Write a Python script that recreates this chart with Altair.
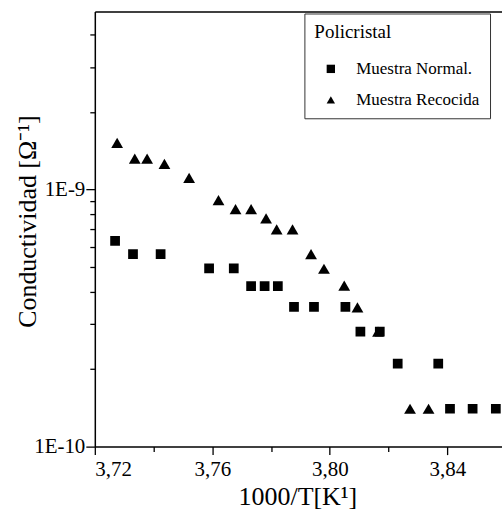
import altair as alt
import pandas as pd

# --- data ---
series_names = ["Muestra Normal.", "Muestra Recocida"]

normal_x = [3.7269, 3.7330, 3.7424, 3.7589, 3.7673, 3.7732, 3.7778, 3.7823, 3.7878,
            3.7946, 3.8053, 3.8104, 3.8170, 3.8231, 3.8369, 3.8409, 3.8486, 3.8565]
normal_y = [6.32e-10, 5.61e-10, 5.61e-10, 4.94e-10, 4.94e-10, 4.21e-10, 4.21e-10, 4.21e-10, 3.50e-10,
            3.50e-10, 3.50e-10, 2.80e-10, 2.80e-10, 2.105e-10, 2.105e-10, 1.404e-10, 1.404e-10, 1.404e-10]

recocida_x = [3.7276, 3.7336, 3.7378, 3.7437, 3.7521, 3.7621, 3.7679, 3.7732, 3.7783,
              3.7819, 3.7873, 3.7936, 3.7980, 3.8049, 3.8094, 3.8164, 3.8273, 3.8336]
recocida_y = [15.2e-10, 13.2e-10, 13.2e-10, 12.6e-10, 11.1e-10, 9.09e-10, 8.39e-10, 8.39e-10, 7.72e-10,
              7.00e-10, 7.00e-10, 5.61e-10, 4.92e-10, 4.23e-10, 3.48e-10, 2.80e-10, 1.404e-10, 1.404e-10]

x_ticks = [3.72, 3.74, 3.76, 3.78, 3.80, 3.82, 3.84]
y_ticks = [1e-10, 2e-10, 3e-10, 4e-10, 5e-10, 6e-10, 7e-10, 8e-10, 9e-10,
           1e-9, 2e-9, 3e-9, 4e-9]

x_domain = [3.72, 3.8586]
y_domain = [1e-10, 4.93e-9]

df = pd.concat([
    pd.DataFrame({"x": normal_x, "y": normal_y, "serie": series_names[0]}),
    pd.DataFrame({"x": recocida_x, "y": recocida_y, "serie": series_names[1]}),
])

FONT = "Liberation Serif"

major_y = "abs(log(datum.value)/LN10 - round(log(datum.value)/LN10)) < 0.001"
major_x = "round(datum.value*100) % 4 == 0"

x_axis = alt.Axis(
    values=x_ticks,
    labelExpr=f"({major_x}) ? replace(format(datum.value, '.2f'), '.', ',') : ''",
    tickSize={"condition": {"test": major_x, "value": 8}, "value": 5},
    labelPadding=4,
    title="1000/T[K¹]",
    titleX=203, titleY=50, titleAlign="center", titleBaseline="middle",
    grid=False,
    domainColor="black", domainWidth=1.5, tickColor="black", tickWidth=1.3,
    labelFont=FONT, labelFontSize=21, labelColor="black",
    titleFont=FONT, titleFontSize=26, titleFontWeight="normal", titleColor="black",
)

y_axis = alt.Axis(
    values=y_ticks,
    labelExpr=f"({major_y}) ? '1E' + round(log(datum.value)/LN10) : ''",
    tickSize={"condition": {"test": major_y, "value": 9}, "value": 5},
    labelPadding=1,
    title="Conductividad [Ω⁻¹]",
    titleAngle=270, titleX=-67, titleY=210, titleAlign="center", titleBaseline="middle",
    grid=False,
    domainColor="black", domainWidth=1.5, tickColor="black", tickWidth=1.3,
    labelFont=FONT, labelFontSize=21, labelColor="black",
    titleFont=FONT, titleFontSize=26, titleFontWeight="normal", titleColor="black",
)

x_scale = alt.Scale(domain=x_domain, nice=False, zero=False)
y_scale = alt.Scale(type="log", domain=y_domain, nice=False)
shape_enc = alt.Shape(
    "serie:N",
    scale=alt.Scale(domain=series_names, range=["square", "triangle-up"]),
    legend=alt.Legend(
        title="Policristal",
        orient="none", legendX=210, legendY=2,
        padding=10, strokeColor="#333333", fillColor="white",
        titleFont=FONT, titleFontSize=19, titleFontWeight="normal", titleColor="black",
        titlePadding=18,
        labelFont=FONT, labelFontSize=17, labelColor="black",
        symbolSize=70, symbolOffset=8, labelOffset=17, rowPadding=13,
        symbolFillColor="black", symbolStrokeColor="black",
    ),
)

squares = alt.Chart(df).transform_filter(alt.datum.serie == series_names[0]).mark_point(
    filled=True, color="black", opacity=1, size=95, clip=True).encode(
    x=alt.X("x:Q", scale=x_scale, axis=x_axis),
    y=alt.Y("y:Q", scale=y_scale, axis=y_axis),
    shape=shape_enc,
)
triangles = alt.Chart(df).transform_filter(alt.datum.serie == series_names[1]).mark_point(
    filled=True, color="black", opacity=1, size=140, clip=True).encode(
    x=alt.X("x:Q", scale=x_scale, axis=None),
    y=alt.Y("y:Q", scale=y_scale, axis=y_axis),
    shape=shape_enc,
)

top_border = alt.Chart(df).mark_point(opacity=0).encode(
    x=alt.X("x:Q", scale=x_scale,
            axis=alt.Axis(orient="top", labels=False, ticks=False, title=None, domain=True,
                          grid=False, domainColor="black", domainWidth=1.5)),
)

chart = alt.layer(squares, triangles, top_border).resolve_axis(x="independent").properties(
    width=408, height=436,
    background="white",
    autosize=alt.AutoSizeParams(type="none"),
    padding={"left": 95, "top": 11, "right": 0, "bottom": 68},
).configure_view(stroke=None)

chart.save("out.html", embed_options={"renderer": "svg", "actions": False})
